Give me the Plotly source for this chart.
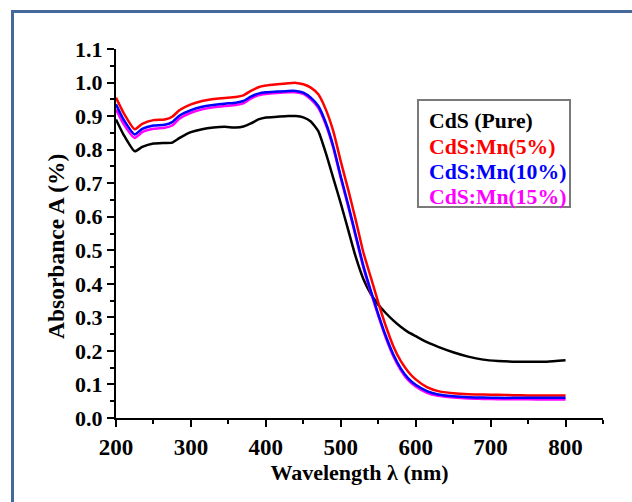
import plotly.graph_objects as go

wavelength = [200, 210, 225, 235, 250, 265, 275, 285, 300, 315, 330, 345, 360, 370, 380, 390,
              400, 415, 430, 440, 450, 460, 470, 480, 490, 500, 510, 520, 530, 540, 550, 560,
              570, 580, 590, 600, 615, 630, 650, 670, 690, 710, 730, 750, 775, 800]

cds_pure = [0.890, 0.845, 0.795, 0.808, 0.818, 0.820, 0.821, 0.835, 0.852, 0.861, 0.866, 0.868,
            0.866, 0.869, 0.878, 0.890, 0.896, 0.898, 0.900, 0.900, 0.896, 0.884, 0.855, 0.790,
            0.715, 0.640, 0.560, 0.480, 0.415, 0.370, 0.338, 0.313, 0.291, 0.272, 0.256, 0.244,
            0.226, 0.212, 0.196, 0.183, 0.174, 0.170, 0.168, 0.168, 0.168, 0.172]

cds_mn5 = [0.955, 0.910, 0.861, 0.877, 0.888, 0.890, 0.898, 0.918, 0.935, 0.945, 0.951, 0.954,
           0.957, 0.962, 0.975, 0.986, 0.991, 0.995, 0.998, 0.999, 0.995, 0.985, 0.965, 0.920,
           0.855, 0.765, 0.680, 0.590, 0.495, 0.420, 0.345, 0.275, 0.215, 0.170, 0.138, 0.115,
           0.092, 0.080, 0.074, 0.071, 0.070, 0.069, 0.068, 0.067, 0.067, 0.067]

cds_mn10 = [0.935, 0.890, 0.845, 0.862, 0.872, 0.874, 0.882, 0.902, 0.918, 0.928, 0.933, 0.937,
            0.940, 0.945, 0.958, 0.967, 0.971, 0.973, 0.975, 0.975, 0.970, 0.955, 0.930, 0.880,
            0.810, 0.720, 0.635, 0.545, 0.455, 0.380, 0.310, 0.245, 0.190, 0.148, 0.118, 0.099,
            0.080, 0.070, 0.065, 0.062, 0.061, 0.060, 0.060, 0.060, 0.060, 0.060]

cds_mn15 = [0.920, 0.877, 0.835, 0.852, 0.862, 0.865, 0.872, 0.893, 0.910, 0.920, 0.926, 0.930,
            0.933, 0.938, 0.952, 0.962, 0.966, 0.969, 0.971, 0.971, 0.966, 0.950, 0.925, 0.875,
            0.805, 0.715, 0.630, 0.540, 0.450, 0.375, 0.305, 0.240, 0.185, 0.143, 0.113, 0.094,
            0.075, 0.066, 0.061, 0.058, 0.057, 0.056, 0.056, 0.056, 0.055, 0.055]

series_names = ["CdS (Pure)", "CdS:Mn(5%)", "CdS:Mn(10%)", "CdS:Mn(15%)"]
series_colors = ["#000000", "#ff0000", "#0000ff", "#ff00ff"]
series_values = [cds_pure, cds_mn5, cds_mn10, cds_mn15]
draw_order = [0, 1, 3, 2]

x_title = "Wavelength λ (nm)"
y_title = "Absorbance A (%)"

FONT = "Liberation Serif, Times New Roman, serif"

fig = go.Figure()
for i in draw_order:
    fig.add_trace(go.Scatter(x=wavelength, y=series_values[i], mode="lines",
                             name=series_names[i],
                             line=dict(color=series_colors[i], width=2.5, shape="spline", smoothing=0.5),
                             showlegend=False))

L, R, T, B = 116, 29, 49, 84
W, H = 632, 502
pw, ph = W - L - R, H - T - B

def px(x):
    return (x - L) / pw

def py(y):
    return (H - B - y) / ph

# outer frame
fig.add_shape(type="rect", xref="paper", yref="paper",
              x0=px(12.5), x1=px(700), y0=py(560), y1=py(11.5),
              line=dict(color="#45699b", width=3), layer="below")
# legend box
fig.add_shape(type="rect", xref="paper", yref="paper",
              x0=px(418), x1=px(570), y0=py(207), y1=py(100),
              line=dict(color="#7a7a7a", width=2), fillcolor="white")

legend_y = [121, 146.5, 172, 197]
for name, color, yy in zip(series_names, series_colors, legend_y):
    fig.add_annotation(xref="paper", yref="paper", x=px(427), y=py(yy),
                       text=name, showarrow=False, xanchor="left", yanchor="middle",
                       font=dict(family=FONT, size=21.7, color=color, weight="bold"))

# y-axis title (placed slightly below axis centre, as in the reference)
fig.add_annotation(xref="paper", yref="paper", x=px(56), y=py(247),
                   text=y_title, showarrow=False, textangle=-90,
                   xanchor="center", yanchor="middle",
                   font=dict(family=FONT, size=23.5, color="black", weight="bold"))

axis_common = dict(showline=True, linewidth=2, linecolor="black", ticks="outside",
                   ticklen=7, tickwidth=2, tickcolor="black", showgrid=False,
                   zeroline=False, mirror=False)

fig.update_layout(
    width=W, height=H,
    margin=dict(l=L, r=R, t=T, b=B, pad=0),
    paper_bgcolor="white", plot_bgcolor="white",
    showlegend=False,
    xaxis=dict(range=[200, 850], tick0=200, dtick=100,
               minor=dict(dtick=50, tick0=200, ticklen=4, tickwidth=2, tickcolor="black", ticks="outside"),
               tickfont=dict(family=FONT, size=23, color="black", weight="bold"),
               title=dict(text=x_title, standoff=4,
                          font=dict(family=FONT, size=22, color="black", weight="bold")),
               **axis_common),
    yaxis=dict(range=[0, 1.1], tick0=0, dtick=0.1, tickformat=".1f",
               minor=dict(dtick=0.05, tick0=0, ticklen=4, tickwidth=2, tickcolor="black", ticks="outside"),
               tickfont=dict(family=FONT, size=22, color="black", weight="bold"),
               **axis_common),
)

fig.write_html("out.html", config={"displayModeBar": False},
               post_script="document.body.style.margin='0';document.body.style.overflow='hidden';")
